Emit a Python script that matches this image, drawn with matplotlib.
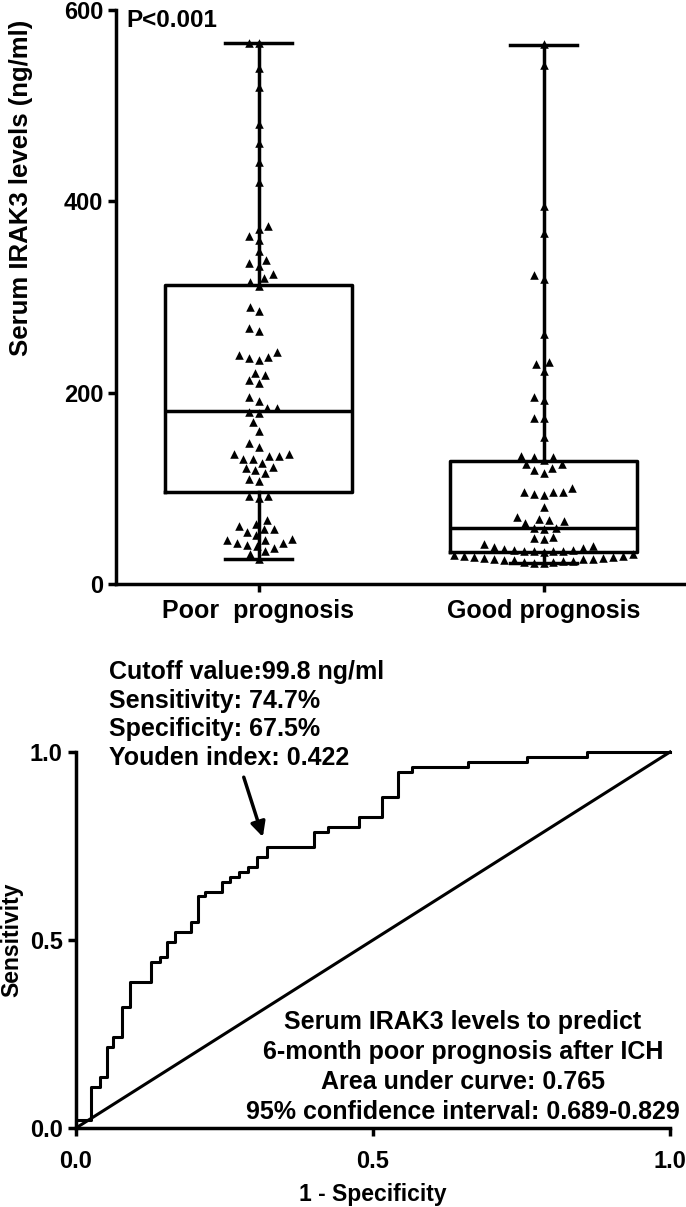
import matplotlib.pyplot as plt
import numpy as np

plt.rcParams['font.family'] = ['Liberation Sans', 'DejaVu Sans']
plt.rcParams['font.weight'] = 'bold'

# --- top panel data (ng/ml) ---
groups = ['Poor  prognosis', 'Good prognosis']
poor_levels = [566, 565, 539, 519, 481, 461, 441, 420, 374, 371, 364, 360, 348, 339, 336,
               332, 324, 320, 316, 311, 290, 285, 268, 264, 242, 239, 237, 236, 234, 221,
               218, 213, 210, 195, 191, 184, 184, 180, 179, 169, 160, 147, 143, 136, 136,
               134, 134, 131, 131, 127, 122, 121, 119, 116, 110, 108, 92, 92, 90, 67, 63,
               61, 57, 57, 54, 51, 47, 46, 46, 43, 43, 41, 40, 38, 34, 31, 26]
good_levels = [564, 542, 395, 367, 323, 319, 261, 232, 230, 223, 195, 192, 174, 174, 154,
               134, 133, 133, 130, 125, 125, 121, 119, 116, 100, 96, 96, 96, 94, 93, 80,
               70, 68, 67, 66, 64, 59, 59, 58, 49, 48, 47, 42, 40, 39, 38, 37, 36, 36, 35,
               35, 34, 34, 33, 31, 30, 29, 29, 28, 28, 27, 27, 26, 26, 26, 25, 25, 24, 24,
               23, 23, 22, 22]
# min, q1, median, q3, max
poor_box = [26, 96, 181, 313, 566]
good_box = [22, 33, 59, 129, 563]

# --- bottom panel data (ROC) ---
roc_fpr = [0, 0, 0.026, 0.040, 0.052, 0.063, 0.077, 0.091, 0.127, 0.141, 0.154, 0.167,
           0.193, 0.206, 0.218, 0.246, 0.259, 0.275, 0.290, 0.305, 0.321, 0.400, 0.425,
           0.477, 0.515, 0.542, 0.565, 0.660, 0.760, 0.860, 1.0]
roc_tpr = [0, 0.021, 0.110, 0.136, 0.216, 0.243, 0.323, 0.389, 0.442, 0.454, 0.495, 0.522,
           0.547, 0.617, 0.628, 0.655, 0.667, 0.680, 0.693, 0.720, 0.747, 0.788, 0.801,
           0.828, 0.880, 0.947, 0.960, 0.973, 0.987, 1.0, 1.0]
cutoff_point = (0.321, 0.747)

LW = 2.5


def swarm_x(values, ax, center, size_px=10.0):
    # simple beeswarm in pixel space
    sx = ax.transData.transform((1, 0))[0] - ax.transData.transform((0, 0))[0]
    sy = ax.transData.transform((0, 1))[1] - ax.transData.transform((0, 0))[1]
    ys = np.array(values, dtype=float) * sy
    placed = []
    offs = np.zeros(len(ys))
    for i in np.argsort(ys):
        y = ys[i]
        near = [(px, py) for px, py in placed if abs(py - y) < size_px]
        cands = [0.0]
        for px, py in near:
            d = np.sqrt(size_px ** 2 - (py - y) ** 2)
            cands += [px - d, px + d]
        cands.sort(key=abs)
        for c in cands:
            if all((c - px) ** 2 + (y - py) ** 2 >= size_px ** 2 - 1e-6 for px, py in near):
                break
        placed.append((c, y))
        offs[i] = c / sx
    return center + offs


fig = plt.figure(figsize=(6.86, 12.07), dpi=100)
ax1 = fig.add_axes([116 / 686, 1 - 584 / 1207, 570 / 686, 574 / 1207])
ax2 = fig.add_axes([76 / 686, 1 - 1128 / 1207, 594 / 686, 376 / 1207])

# ---------- box + scatter ----------
ax1.set_xlim(-0.5, 1.5)
ax1.set_ylim(0, 600)
stats = []
for b in (poor_box, good_box):
    stats.append(dict(whislo=b[0], q1=b[1], med=b[2], q3=b[3], whishi=b[4], fliers=[]))
line = dict(color='black', lw=LW)
ax1.bxp(stats, positions=[0, 1], widths=0.655, capwidths=0.236, showfliers=False,
        boxprops=line, whiskerprops=line, capprops=line, medianprops=line,
        manage_ticks=False)
for pos, vals in enumerate([poor_levels, good_levels]):
    ax1.scatter(swarm_x(vals, ax1, pos), vals, marker='^', s=38, color='black',
                linewidths=0, zorder=3, clip_on=False)

ax1.set_xticks([0, 1], groups)
ax1.set_yticks([0, 200, 400, 600])
ax1.tick_params(axis='x', width=LW, length=6, labelsize=18, pad=5)
ax1.tick_params(axis='y', width=LW, length=6, labelsize=17, pad=3)
ax1.set_ylabel('Serum IRAK3 levels (ng/ml)', fontsize=18.5, fontweight='bold')
ax1.yaxis.set_label_coords(-0.145, 0.69)
ax1.text(-0.462, 589, 'P<0.001', fontsize=17.5, fontweight='bold', va='center', ha='left')
for s in ['top', 'right']:
    ax1.spines[s].set_visible(False)
for s in ['left', 'bottom']:
    ax1.spines[s].set_linewidth(LW)

# ---------- ROC ----------
ax2.set_xlim(0, 1)
ax2.set_ylim(0, 1)
ax2.step(roc_fpr, roc_tpr, where='post', color='black', lw=2.2, clip_on=False)
ax2.plot([0, 1], [0, 1], color='black', lw=2.2, clip_on=False)
ax2.set_xticks([0, 0.5, 1.0], ['0.0', '0.5', '1.0'])
ax2.set_yticks([0, 0.5, 1.0], ['0.0', '0.5', '1.0'])
ax2.tick_params(width=LW, length=6, labelsize=17)
ax2.tick_params(axis='x', pad=10)
ax2.set_xlabel('1 - Specificity', fontsize=16.5, fontweight='bold', labelpad=7)
ax2.set_ylabel('Sensitivity', fontsize=16.5, fontweight='bold')
ax2.yaxis.set_label_coords(-0.088, 0.5)
for s in ['top', 'right']:
    ax2.spines[s].set_visible(False)
for s in ['left', 'bottom']:
    ax2.spines[s].set_linewidth(LW)

ax2.annotate('', xy=(cutoff_point[0] - 0.005, cutoff_point[1] + 0.02), xytext=(0.281, 0.94),
             arrowprops=dict(arrowstyle='-|>', color='black', lw=2.5, mutation_scale=22),
             annotation_clip=False)
ax2.text(0.056, 1.245, 'Cutoff value:99.8 ng/ml\nSensitivity: 74.7%\nSpecificity: 67.5%\n'
         'Youden index: 0.422', fontsize=18, fontweight='bold', ha='left', va='top',
         linespacing=1.25, clip_on=False)
ax2.text(0.651, 0.314, 'Serum IRAK3 levels to predict\n6-month poor prognosis after ICH\n'
         'Area under curve: 0.765\n95% confidence interval: 0.689-0.829',
         fontsize=18, fontweight='bold', ha='center', va='top', linespacing=1.32)

fig.savefig('out.png', dpi=100)
